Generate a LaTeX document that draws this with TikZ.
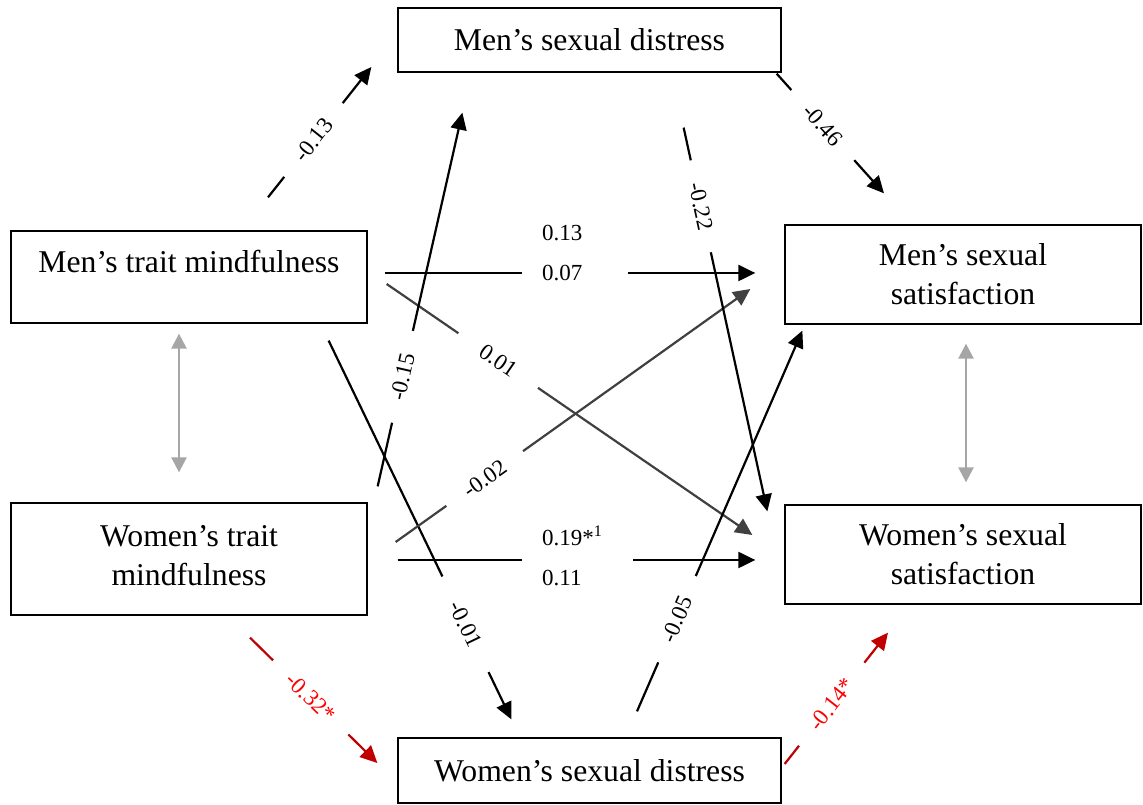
\documentclass[tikz,border=0pt]{standalone}
\usepackage{fontspec}
\setmainfont{Liberation Serif}
\usepackage{xcolor}
\usetikzlibrary{arrows.meta, positioning}
\definecolor{darkline}{HTML}{404040}
\definecolor{corline}{HTML}{A6A6A6}
\definecolor{sigline}{HTML}{C00000}
\definecolor{sigtext}{HTML}{FF0000}

\begin{document}
\begin{tikzpicture}[
    x=1pt, y=1pt,
    box/.style={rectangle, draw, line width=1.3pt, minimum width=356pt, minimum height=99pt, align=center, inner sep=0pt, font=\fontsize{31.7pt}{39pt}\selectfont},
    dbox/.style={box, minimum width=383pt, minimum height=64pt},
    coef/.style={fill=white, sloped, inner xsep=23pt, inner ysep=1pt, font=\fontsize{23pt}{27pt}\selectfont},
    pair/.style={fill=white, align=left, inner xsep=20pt, inner ysep=1pt, font=\fontsize{23pt}{40pt}\selectfont},
    sig/.style={text=sigtext},
    arrow/.style={-{Triangle[length=17pt, width=16pt]}, line width=2.2pt},
    garrow/.style={arrow, draw=darkline},
    sarrow/.style={arrow, draw=sigline},
    corr/.style={{Triangle[length=15pt, width=15pt]}-{Triangle[length=15pt, width=15pt]}, line width=2.5pt, draw=corline}
]
\useasboundingbox (0,0) rectangle (1143,805);

% Boxes
\node[dbox] (msd) at (589.5,765) {Men’s sexual distress};
\node[box, minimum height=92pt, text depth=31pt] (mtm) at (189,528) {Men’s trait mindfulness};
\node[box, minimum height=112pt, text depth=8pt] (wtm) at (189,246) {Women’s trait\\mindfulness};
\node[box] (mss) at (963,530.5) {Men’s sexual\\satisfaction};
\node[box] (wss) at (963,250.5) {Women’s sexual\\satisfaction};
\node[dbox, minimum height=65pt] (wsd) at (589.5,34.5) {Women’s sexual distress};

% Men's trait mindfulness paths
\draw[arrow] ([shift={(79,33)}]mtm.north) -- node[coef, pos=.44] {-0.13} ([shift={(-26,-27)}]msd.west);
\draw[arrow] ([shift={(17,4)}]mtm.east) -- ([shift={(-29,1.5)}]mss.west);
\draw[garrow] ([shift={(19,-7)}]mtm.east) -- node[coef, pos=.305, inner xsep=28pt] {0.01} ([shift={(-32,19.5)}]wss.west);
\draw[arrow] ([shift={(-39,-17)}]mtm.south east) -- node[coef, pos=.749, inner xsep=29pt] {-0.01} ([shift={(114,18)}]wsd.north west);

% Women's trait mindfulness paths
\draw[arrow] ([shift={(30,-1)}]wtm.east) -- ([shift={(-29,-5.5)}]wss.west);
\draw[garrow] ([shift={(28,17)}]wtm.east) -- node[coef, pos=.251] {-0.02} ([shift={(-34,-14.5)}]mss.west);
\draw[arrow] ([shift={(10,16)}]wtm.north east) -- node[coef, pos=.293] {-0.15} ([shift={(65,-40)}]msd.south west);
\draw[sarrow] ([shift={(61,-22)}]wtm.south) -- node[coef, sig, pos=.477] {-0.32*} ([shift={(-20,7.5)}]wsd.west);

% Distress paths
\draw[arrow] ([shift={(-5,-1)}]msd.south east) -- node[coef, pos=.43] {-0.46} ([shift={(-79,31)}]mss.north);
\draw[arrow] ([shift={(-98,-55)}]msd.south east) -- node[coef, pos=.205] {-0.22} ([shift={(-17,-7)}]wss.north west);
\draw[arrow] ([shift={(47.5,26)}]wsd.north) -- node[coef, pos=.242] {-0.05} ([shift={(18,-6)}]mss.south west);
\draw[sarrow] ([shift={(3,6.5)}]wsd.east) -- node[coef, sig, pos=.455] {-0.14*} ([shift={(-75,-28)}]wss.south);

% Partner correlations
\draw[corr] ([shift={(-10,-10)}]mtm.south) -- ([shift={(-10,30)}]wtm.north);
\draw[corr] ([shift={(3,-19)}]mss.south) -- ([shift={(3,22)}]wss.north);

% Actor coefficients
\node[pair, text width=66pt, anchor=west] (c_men) at (522,552) {0.13\\0.07};
\node[pair, text width=71pt, anchor=west] (c_women) at (522,249) {0.19*\textsuperscript{1}\\0.11};

\end{tikzpicture}
\end{document}
